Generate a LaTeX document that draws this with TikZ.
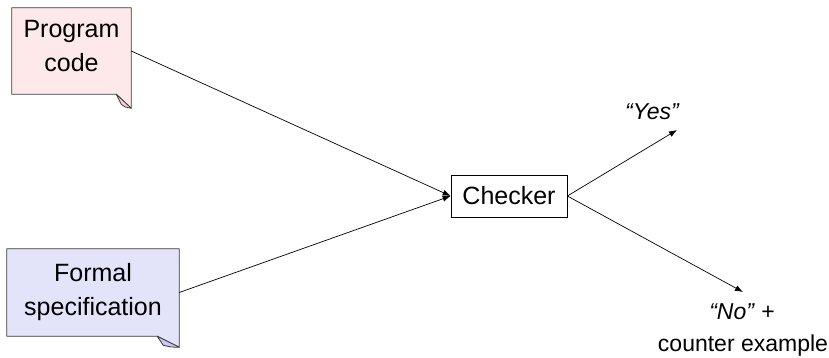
\documentclass[tikz,border=0pt]{standalone}
\usepackage{fontspec}
\setmainfont{Liberation Sans}
\usetikzlibrary{arrows.meta}
\definecolor{pinkfill}{HTML}{FDE9E9}
\definecolor{pinkflap}{HTML}{F2D2D2}
\definecolor{bluefill}{HTML}{E3E3FA}
\definecolor{blueflap}{HTML}{C9C9F2}
\definecolor{edgegrey}{HTML}{3A3A3A}
\tikzset{
  x=1pt, y=-1pt,
  lbl/.style={font=\fontsize{25}{34}\selectfont, align=center, inner sep=0pt},
  outlbl/.style={font=\fontsize{23}{30}\selectfont, inner sep=0pt},
  docedge/.style={draw=edgegrey, line width=0.8pt, line join=round},
  flow/.style={draw=black, line width=0.7pt, -{Latex[length=8pt,width=6pt]}},
}
\begin{document}
\begin{tikzpicture}
\useasboundingbox (0,0) rectangle (829,357);
% document boxes (exact extents)
\node[minimum width=119pt, minimum height=86pt, inner sep=0pt] (pc) at (71.5,51) {};
\node[minimum width=172pt, minimum height=87pt, inner sep=0pt] (fs) at (93,292.5) {};
% folded-corner outlines
\filldraw[docedge, fill=pinkfill]
  (pc.north west) -- (pc.north east) -- ([yshift=-14pt]pc.south east)
  -- ([xshift=-15pt]pc.south east) -- (pc.south west) -- cycle;
\filldraw[docedge, fill=pinkflap]
  ([xshift=-15pt]pc.south east) -- ([xshift=-10pt,yshift=-10pt]pc.south east)
  .. controls ([xshift=-6pt,yshift=-13pt]pc.south east) .. ([yshift=-14pt]pc.south east) -- cycle;
\filldraw[docedge, fill=bluefill]
  (fs.north west) -- (fs.north east) -- ([yshift=-11pt]fs.south east)
  -- ([xshift=-22pt]fs.south east) -- (fs.south west) -- cycle;
\filldraw[docedge, fill=blueflap]
  ([xshift=-22pt]fs.south east) -- ([xshift=-16pt,yshift=-9pt]fs.south east)
  .. controls ([xshift=-8pt,yshift=-11pt]fs.south east) .. ([yshift=-11pt]fs.south east) -- cycle;
% texts
\node[lbl] (pctext) at ([yshift=5pt]pc.center) {Program\\code};
\node[lbl] (fstext) at (fs.center) {Formal\\specification};
% checker
\node[lbl, draw=black, line width=0.7pt, fill=white, minimum width=116pt, minimum height=42pt] (ck) at (509,196) {Checker};
% outputs
\coordinate (yestip) at (677,130);
\coordinate (notip) at (743,292);
\node[outlbl, font=\fontsize{23}{30}\selectfont\itshape] (yes) at (652,112) {“Yes”};
\node[outlbl, anchor=base] (no) at (742,319) {\textit{“No”}~+};
\node[outlbl, anchor=base] (ce) at (743,351) {counter example};
% connectors
\draw[flow] (pc.east) -- (ck.west);
\draw[flow] (fs.east) -- (ck.west);
\draw[flow] (ck.east) -- (yestip);
\draw[flow] (ck.east) -- (notip);
\end{tikzpicture}
\end{document}
